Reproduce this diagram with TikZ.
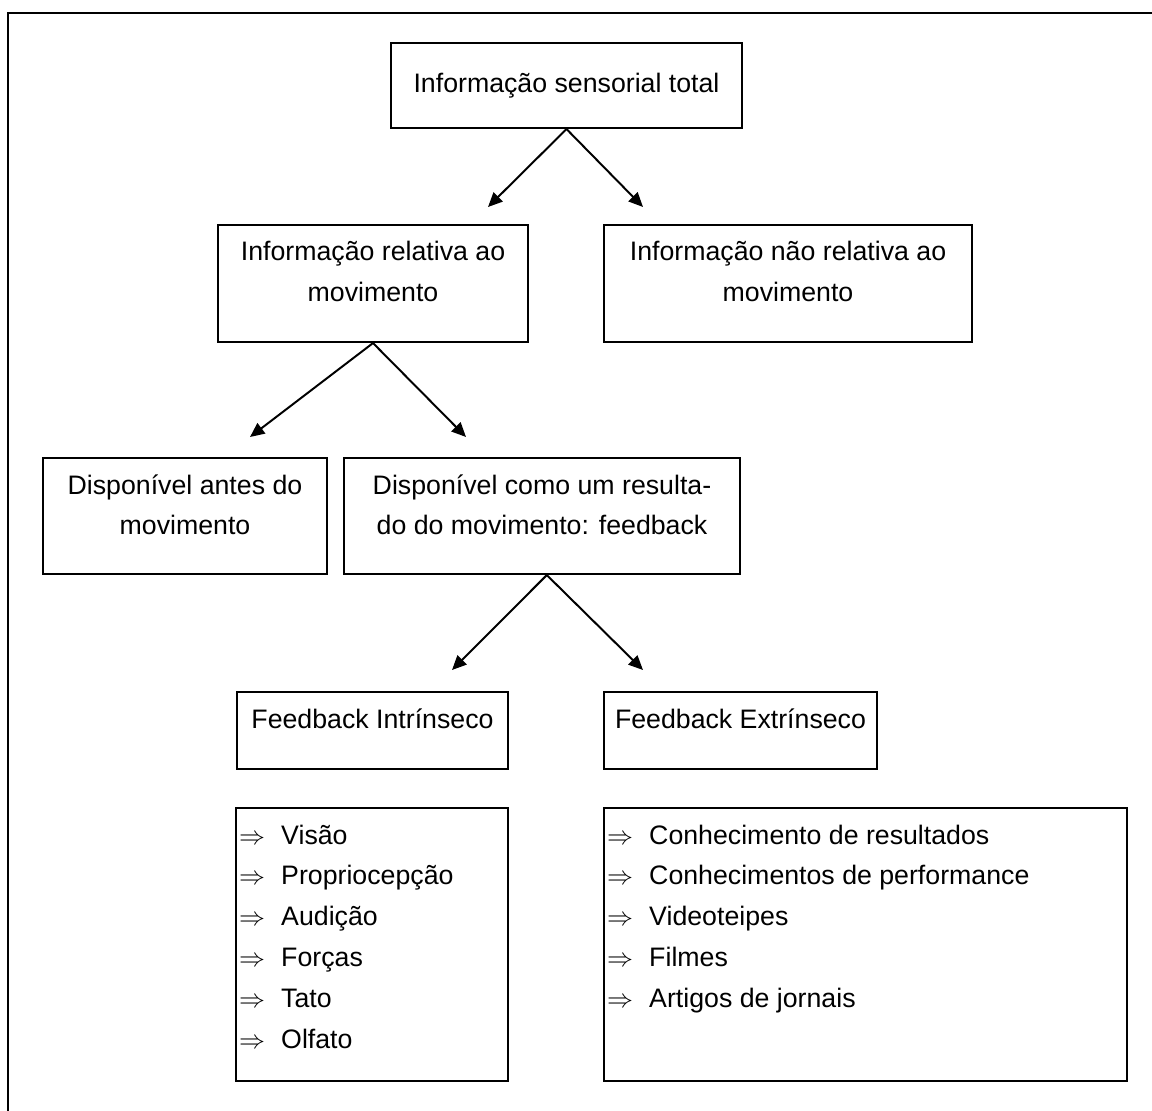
\documentclass[tikz,border=0pt]{standalone}
\usepackage{fontspec}
\usepackage{graphicx}
\setmainfont{Liberation Sans}
\usetikzlibrary{arrows.meta}
\begin{document}
\begin{tikzpicture}[x=0.025cm,y=-0.025cm,
  every node/.style={font=\fontsize{19pt}{29pt}\selectfont},
  box/.style 2 args={draw, line width=1.5pt, inner sep=0pt,
    minimum width=#1*0.025cm, minimum height=#2*0.025cm},
  toplab/.style={anchor=north, align=center, inner xsep=0pt, inner ysep=0.43cm},
  listlab/.style={anchor=north west, align=left, inner xsep=0.1cm, inner ysep=0.44cm},
  arr/.style={line width=1.4pt, -{Triangle[length=0.36cm,width=0.32cm]}},
  frame/.style={line width=2pt}]
\useasboundingbox (0,0) rectangle (1152,1111);
\draw[frame] (1152,13) -- (8,13) -- (8,1111);

\newcommand{\itm}{\resizebox{0.65cm}{!}{$\Rightarrow$}\hspace{0.4cm}}

\node[box={351}{85}] (top) at (566.5,85.5) {Informação sensorial total};
\node[box={310}{117}, label={[toplab]north:{Informação relativa ao\\movimento}}] (rel) at (373,283.5) {};
\node[box={368}{117}, label={[toplab]north:{Informação não relativa ao\\movimento}}] (nrel) at (788,283.5) {};
\node[box={284}{116}, label={[toplab]north:{Disponível antes do\\movimento}}] (antes) at (185,516) {};
\node[box={396}{116}, label={[toplab]north:{Disponível como um resulta-\\do do movimento: feedback}}] (feed) at (542,516) {};
\node[box={271}{77}, label={[toplab]north:{Feedback Intrínseco}}] (intr) at (372.5,730.5) {};
\node[box={273}{77}, label={[toplab]north:{Feedback Extrínseco}}] (extr) at (740.5,730.5) {};
\node[box={272}{273}, label={[listlab]north west:{\itm Visão\\\itm Propriocepção\\\itm Audição\\\itm Forças\\\itm Tato\\\itm Olfato}}] (listL) at (372,944.5) {};
\node[box={523}{273}, label={[listlab]north west:{\itm Conhecimento de resultados\\\itm Conhecimentos de performance\\\itm Videoteipes\\\itm Filmes\\\itm Artigos de jornais}}] (listR) at (865.5,944.5) {};

\coordinate (e1) at (488,207);
\coordinate (e2) at (643,207);
\coordinate (e3) at (250,437);
\coordinate (e4) at (466,437);
\coordinate (e5) at (452,670);
\coordinate (e6) at (643,670);

\draw[arr] (top.south) -- (e1);
\draw[arr] (top.south) -- (e2);
\draw[arr] (rel.south) -- (e3);
\draw[arr] (rel.south) -- (e4);
\draw[arr] ([xshift=0.12cm]feed.south) -- (e5);
\draw[arr] ([xshift=0.12cm]feed.south) -- (e6);
\end{tikzpicture}
\end{document}
